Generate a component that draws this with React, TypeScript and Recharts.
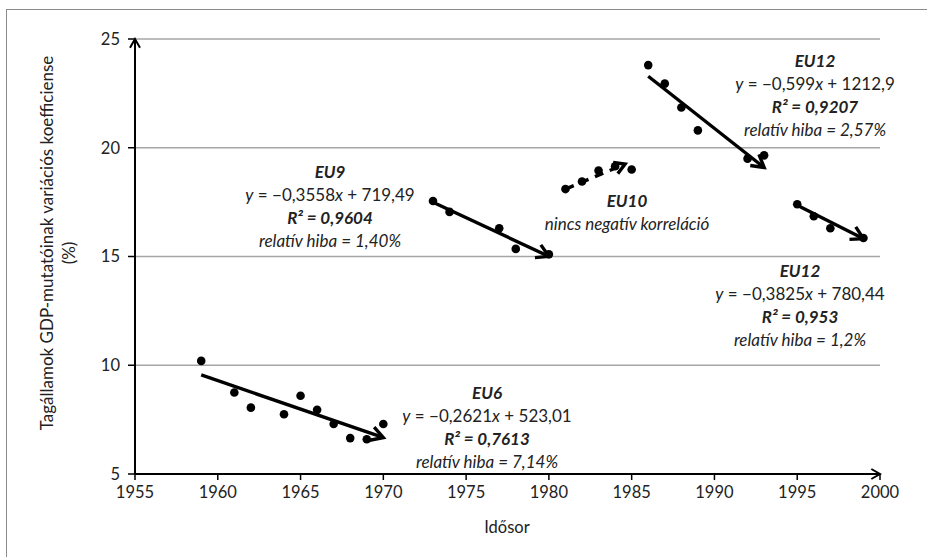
import { ScatterChart, Scatter, XAxis, YAxis, CartesianGrid, ReferenceLine, Customized } from "recharts";

const FONT = "Lato, 'Open Sans', sans-serif";

// observed coefficients of variation (%) per year, by enlargement stage
const eu6Years = [1959, 1961, 1962, 1964, 1965, 1966, 1967, 1968, 1969, 1970];
const eu6Values = [10.2, 8.75, 8.05, 7.75, 8.6, 7.95, 7.3, 6.65, 6.6, 7.3];
const eu9Years = [1973, 1974, 1977, 1978, 1980];
const eu9Values = [17.55, 17.05, 16.3, 15.35, 15.1];
const eu10Years = [1981, 1982, 1983, 1984, 1985];
const eu10Values = [18.1, 18.45, 18.95, 19.15, 19.0];
const eu12aYears = [1986, 1987, 1988, 1989, 1992, 1993];
const eu12aValues = [23.8, 22.95, 21.85, 20.8, 19.5, 19.65];
const eu12bYears = [1995, 1996, 1997, 1999];
const eu12bValues = [17.4, 16.85, 16.3, 15.85];

// fitted linear trends: y = slope * year + intercept
const trendSlopes = [-0.2621, -0.3558, -0.599, -0.3825];
const trendIntercepts = [523.01, 719.49, 1212.9, 780.44];
const trendFrom = [1959, 1973, 1986, 1995];
const trendTo = [1970, 1980, 1993, 1999];

// EU10 has no negative trend, only a rising direction
const eu10TrendX = [1981, 1984.6];
const eu10TrendY = [18.1, 19.25];

const xTicks = [1955, 1960, 1965, 1970, 1975, 1980, 1985, 1990, 1995, 2000];
const yTicks = [5, 10, 15, 20, 25];

const toPoints = (xs: number[], ys: number[]) => xs.map((x, i) => ({ x, y: ys[i] }));

const allPoints = [
  ...toPoints(eu6Years, eu6Values),
  ...toPoints(eu9Years, eu9Values),
  ...toPoints(eu10Years, eu10Values),
  ...toPoints(eu12aYears, eu12aValues),
  ...toPoints(eu12bYears, eu12bValues),
];

function arrowLine(p: any, width: number, head: number, dash?: string) {
  const { x1, y1, x2, y2 } = p;
  const a = Math.atan2(y2 - y1, x2 - x1);
  const th = (30 * Math.PI) / 180;
  const pA = [x2 - head * Math.cos(a - th), y2 - head * Math.sin(a - th)];
  const pB = [x2 - head * Math.cos(a + th), y2 - head * Math.sin(a + th)];
  const back = width * 0.6;
  return (
    <g>
      <line
        x1={x1}
        y1={y1}
        x2={x2 - back * Math.cos(a)}
        y2={y2 - back * Math.sin(a)}
        stroke="#000"
        strokeWidth={width}
        strokeDasharray={dash}
      />
      <polyline
        points={`${pA[0]},${pA[1]} ${x2},${y2} ${pB[0]},${pB[1]}`}
        fill="none"
        stroke="#000"
        strokeWidth={width}
        strokeLinejoin="miter"
      />
    </g>
  );
}

const txt = { fontFamily: FONT, fontSize: 17, fill: "#222", textAnchor: "middle" as const, dominantBaseline: "central" as const };

function Block({ cx, y, title, a, b, r2, err }: any) {
  return (
    <g>
      <text {...txt} x={cx} y={y} fontWeight="bold" fontStyle="italic">{title}</text>
      <text {...txt} x={cx} y={y + 23}>
        <tspan fontStyle="italic">y</tspan> = −{a}<tspan fontStyle="italic">x</tspan> + {b}
      </text>
      <text {...txt} x={cx} y={y + 46} fontWeight="bold" fontStyle="italic">R² = {r2}</text>
      <text {...txt} x={cx} y={y + 69} fontStyle="italic">relatív hiba = {err}</text>
    </g>
  );
}

function Annotations() {
  return (
    <g>
      <Block cx={330} y={171} title="EU9" a="0,3558" b="719,49" r2="0,9604" err="1,40%" />
      <Block cx={487} y={392} title="EU6" a="0,2621" b="523,01" r2="0,7613" err="7,14%" />
      <Block cx={815} y={60} title="EU12" a="0,599" b="1212,9" r2="0,9207" err="2,57%" />
      <Block cx={800} y={270} title="EU12" a="0,3825" b="780,44" r2="0,953" err="1,2%" />
      <text {...txt} x={627} y={200} fontWeight="bold" fontStyle="italic">EU10</text>
      <text {...txt} x={627} y={223} fontStyle="italic">nincs negatív korreláció</text>
      <text {...txt} fontSize={16.5} x={507} y={527} fontStyle="normal">Idősor</text>
      <text {...txt} fontSize={17} transform="rotate(-90 46 243)" x={46} y={243}>
        Tagállamok GDP-mutatóinak variációs koefficiense
      </text>
      <text {...txt} fontSize={17} transform="rotate(-90 68 253)" x={68} y={253}>
        (%)
      </text>
    </g>
  );
}

export default function App() {
  return (
    <div style={{ position: "absolute", left: 0, top: 0, width: 927, height: 557, background: "#fff", overflow: "hidden" }}>
      <div style={{ position: "absolute", left: 6, top: 9, width: 960, height: 600, border: "1.5px solid #8a8a8a" }} />
      <div style={{ position: "absolute", left: 0, top: 0 }}>
        <ScatterChart width={927} height={557} margin={{ top: 39, right: 47, bottom: 53, left: 75 }}>
          <CartesianGrid horizontal vertical={false} stroke="#a6a6a6" strokeWidth={1.3} />
          <XAxis
            type="number"
            dataKey="x"
            domain={[1955, 2000]}
            ticks={xTicks}
            interval={0}
            axisLine={false}
            tickLine={{ stroke: "#000", strokeWidth: 1.5 }}
            tickSize={6}
            tickMargin={6}
            height={30}
            tick={{ fontFamily: FONT, fontSize: 16.5, fill: "#222" }}
          />
          <YAxis
            type="number"
            dataKey="y"
            domain={[5, 25]}
            ticks={yTicks}
            interval={0}
            axisLine={false}
            tickLine={{ stroke: "#000", strokeWidth: 1.5 }}
            tickSize={7}
            tickMargin={8}
            width={60}
            tick={{ fontFamily: FONT, fontSize: 16.5, fill: "#222" }}
          />
          {/* axes with arrow tips */}
          <ReferenceLine
            segment={[{ x: 1955, y: 5 }, { x: 2000, y: 5 }]}
            ifOverflow="visible"
            shape={(p: any) => arrowLine(p, 2, 10)}
          />
          <ReferenceLine
            segment={[{ x: 1955, y: 5 }, { x: 1955, y: 25 }]}
            ifOverflow="visible"
            shape={(p: any) => arrowLine(p, 2, 10)}
          />
          <Scatter
            data={allPoints}
            isAnimationActive={false}
            shape={(p: any) => <circle cx={p.cx} cy={p.cy} r={4.3} fill="#000" />}
          />
          {trendSlopes.map((s, i) => (
            <ReferenceLine
              key={i}
              segment={[
                { x: trendFrom[i], y: s * trendFrom[i] + trendIntercepts[i] },
                { x: trendTo[i], y: s * trendTo[i] + trendIntercepts[i] },
              ]}
              ifOverflow="visible"
              shape={(p: any) => arrowLine(p, 3.4, 14)}
            />
          ))}
          <ReferenceLine
            segment={[{ x: eu10TrendX[0], y: eu10TrendY[0] }, { x: eu10TrendX[1], y: eu10TrendY[1] }]}
            ifOverflow="visible"
            shape={(p: any) => arrowLine(p, 3.4, 12, "9 7")}
          />
          <Customized component={Annotations} />
        </ScatterChart>
      </div>
    </div>
  );
}
